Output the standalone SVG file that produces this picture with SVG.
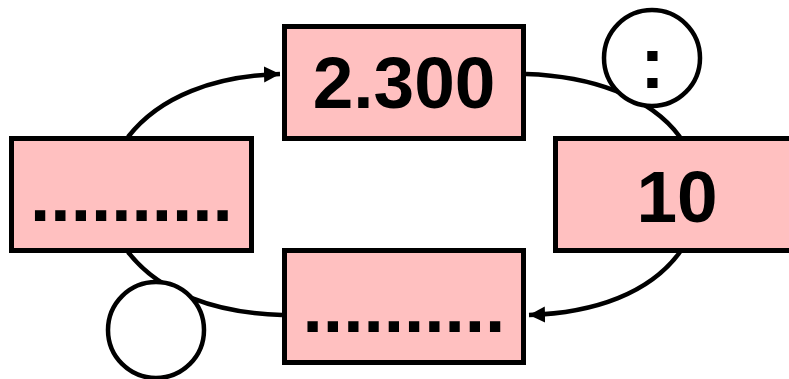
<svg xmlns="http://www.w3.org/2000/svg" width="789" height="379" viewBox="0 0 789 379">
<style>
.box{fill:#FFC0C0;stroke:#000;stroke-width:5}
.t{font-family:"Liberation Sans",Arial,sans-serif;font-weight:bold;font-size:73px;fill:#000;text-anchor:middle}
.c{fill:none;stroke:#000;stroke-width:4.5}
.circ{fill:#fff;stroke:#000;stroke-width:4.5}
</style>
<defs>
<marker id="ah" markerUnits="userSpaceOnUse" markerWidth="18" markerHeight="18" refX="16" refY="8" orient="auto">
<path d="M0,0 L16,8 L0,16 Z" fill="#000"/>
</marker>
</defs>
<rect width="789" height="379" fill="#fff"/>
<g id="connectors">
<path class="c" d="M128,137 C160,96 215,76 280,74" marker-end="url(#ah)"/>
<path class="c" d="M526,74 C590,76 650,96 680,137"/>
<path class="c" d="M680,252 C650,293 595,313 529,315" marker-end="url(#ah)"/>
<path class="c" d="M282,315 C215,313 160,293 128,252"/>
</g>
<g id="node-top">
<rect class="box" x="284.5" y="26.5" width="239" height="112"/>
<text class="t" x="404" y="108">2.300</text>
</g>
<g id="node-right">
<rect class="box" x="555.5" y="138.5" width="240" height="112"/>
<text class="t" x="677" y="222">10</text>
</g>
<g id="node-bottom">
<rect class="box" x="284.5" y="250.5" width="239" height="112"/>
<text class="t" x="404" y="332">..........</text>
</g>
<g id="node-left">
<rect class="box" x="11.5" y="138.5" width="240" height="112"/>
<text class="t" x="131.5" y="221">..........</text>
</g>
<g id="circle-top">
<circle class="circ" cx="652" cy="58" r="48"/>
<text class="t" x="652.5" y="88">:</text>
</g>
<g id="circle-bottom">
<circle class="circ" cx="156" cy="330" r="48"/>
</g>
</svg>
